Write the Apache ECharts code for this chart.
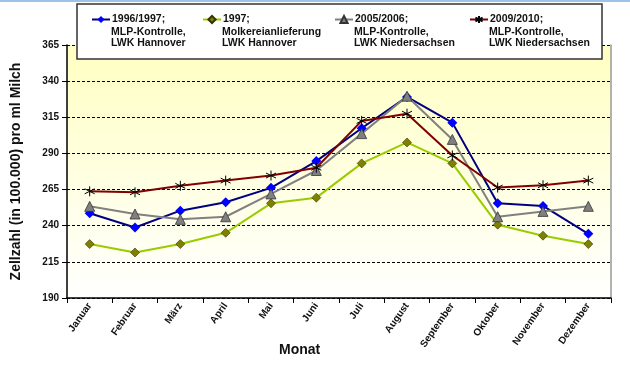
<!DOCTYPE html>
<html><head><meta charset="utf-8">
<script src="https://cdn.jsdelivr.net/npm/echarts@6/dist/echarts.min.js"></script>
<style>html,body{margin:0;padding:0;background:#fff}#c{width:630px;height:367px}</style>
</head><body><div id="c"></div>
<script>
var months = ['Januar','Februar','März','April','Mai','Juni','Juli','August','September','Oktober','November','Dezember'];
var s1996 = [248.6,238.8,250.4,256.2,266.2,284.7,307.4,329.1,311.3,255.5,253.7,234.4];
var s1997 = [227.3,221.5,227.3,235.1,255.5,259.4,283.1,297.6,283.1,240.7,233.1,227.3];
var s2005 = [253.4,248.1,244.4,246.2,262.0,278.2,303.7,329.6,299.7,246.2,249.9,253.4];
var s2009 = [263.8,263.1,267.6,271.2,274.7,280.1,312.5,317.5,288.6,266.4,268.0,271.2];
var names = ['1996/1997;','1997;','2005/2006;','2009/2010;'];
var subLines = [['MLP-Kontrolle,','LWK Hannover'],['Molkereianlieferung','LWK Hannover'],['MLP-Kontrolle,','LWK Niedersachsen'],['MLP-Kontrolle,','LWK Niedersachsen']];
var yMin = 190, yMax = 365, yStep = 25;

var FONT = '"Liberation Sans", Arial, sans-serif';
var legendX = [91, 202, 334, 469];
var asterisk = 'path://M5,0 L5,10 M0.7,2.5 L9.3,7.5 M0.7,7.5 L9.3,2.5';

var chart = echarts.init(document.getElementById('c'), null, {renderer:'canvas'});

var legends = names.map(function(n,i){
  return {
    data:[n], left: legendX[i], top: 14, padding: 0, z: 20,
    itemWidth: 18, itemHeight: 9, itemGap: 0,
    textStyle:{fontFamily:FONT, fontSize:10.5, fontWeight:'bold', color:'#111', padding:[0,0,0,-3]}
  };
});

var graphics = [
  {type:'line', shape:{x1:0,y1:1,x2:630,y2:1}, style:{stroke:'#9DC3E6', lineWidth:2}, z:1},
  {type:'rect', shape:{x:77,y:4,width:525,height:55}, style:{fill:'#fff', stroke:'#333', lineWidth:1.5}, z:15},
  {type:'text', left:279, top:343, style:{text:'Monat', font:'bold 14px '+FONT, fill:'#111'}, z:15}
];
subLines.forEach(function(ls,i){
  graphics.push({type:'text', x: legendX[i]+20, y: 26, z:16,
    style:{text: ls.join('\n'), font:'bold 10.5px '+FONT, fill:'#111', lineHeight:11.5, verticalAlign:'top'}});
});

function mk(name, data, lineColor, sym, symSize, fill, border, bw){
  return {
    name:name, type:'line', data:data, symbol:sym, symbolSize:symSize,
    lineStyle:{color:lineColor, width:2},
    itemStyle:{color:fill, borderColor:border, borderWidth:bw},
    emphasis:{disabled:true}, z:5
  };
}

chart.setOption({
  animation:false,
  backgroundColor:'#fff',
  legend: legends,
  graphic: graphics,
  grid:{left:67, right:19, top:45, bottom:69, show:true, borderWidth:0,
    backgroundColor:{type:'linear', x:0,y:0,x2:0,y2:1, colorStops:[{offset:0,color:'#FFFFC2'},{offset:1,color:'#FFFFFF'}]}},
  xAxis:{type:'category', data:months, boundaryGap:true,
    axisLine:{lineStyle:{color:'#000', width:1.5}},
    axisTick:{show:true, length:5, lineStyle:{color:'#000'}},
    axisLabel:{rotate:55, margin:6, fontFamily:FONT, fontSize:10, fontWeight:'bold', color:'#111', interval:0},
    splitLine:{show:false}},
  yAxis:[{type:'value', min:yMin, max:yMax, interval:yStep,
    name:'Zellzahl (in 100.000) pro ml Milch', nameLocation:'middle', nameGap:44, nameRotate:90,
    nameTextStyle:{fontFamily:FONT, fontSize:14, fontWeight:'bold', color:'#111'},
    axisLine:{show:true, lineStyle:{color:'#000', width:1.5}},
    axisTick:{show:true, length:5, lineStyle:{color:'#000'}},
    axisLabel:{fontFamily:FONT, fontSize:10, fontWeight:'bold', color:'#111', margin:8},
    splitLine:{show:true, lineStyle:{color:'#000', type:[3,2], width:1}}},
   {type:'value', position:'right', min:yMin, max:yMax, interval:yStep,
    axisLine:{show:true, lineStyle:{color:'#999', width:1.5}}, axisTick:{show:false}, axisLabel:{show:false}, splitLine:{show:false}}],
  series:[
    mk(names[0], s1996, '#000080', 'diamond', 10, '#0000FF', '#0000FF', 0),
    mk(names[1], s1997, '#99CC00', 'diamond', 9, '#808000', '#333300', 0.6),
    mk(names[2], s2005, '#808080', 'triangle', 10, '#808080', '#333333', 0.8),
    mk(names[3], s2009, '#800000', asterisk, 10, 'rgba(0,0,0,0)', '#000', 1)
  ]
});
</script></body></html>
